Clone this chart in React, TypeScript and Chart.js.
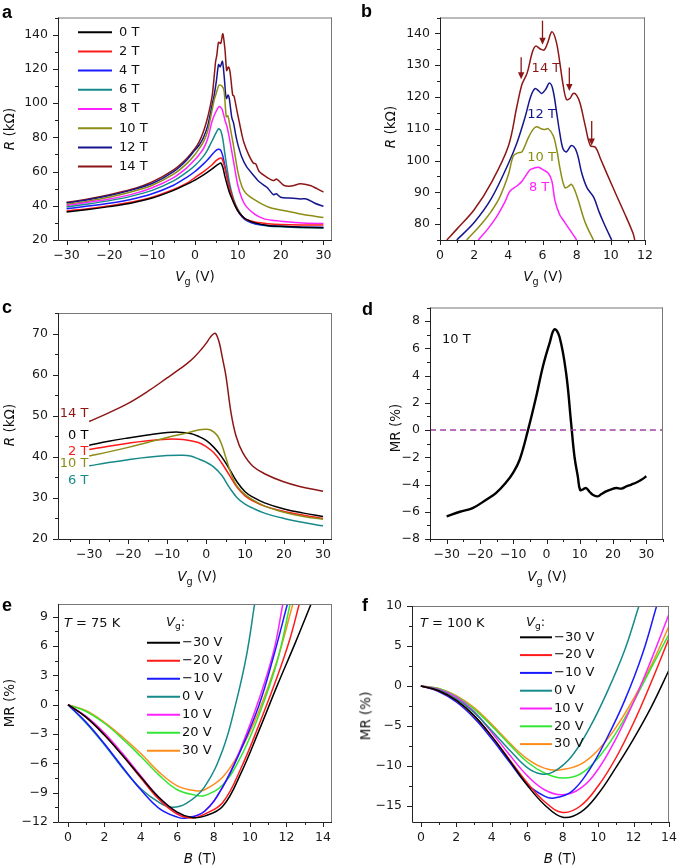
import React, { useEffect, useRef } from "react";
import { Chart, registerables } from "chart.js";

Chart.register(...registerables);

const FONT = "'DejaVu Sans', 'Liberation Sans', sans-serif";

const C_BLACK = "#000000";
const C_RED = "#ff1a1a";
const C_BLUE = "#1a1aff";
const C_TEAL = "#168a8a";
const C_MAGENTA = "#ff22ff";
const C_OLIVE = "#8c8c16";
const C_NAVY = "#16168c";
const C_BROWN = "#8c1616";
const C_GREEN = "#33e633";
const C_ORANGE = "#ff8c1a";
const C_DASH = "#a040a0";

// ---------------- Panel a : R vs Vg ----------------
const aLabels = ["0 T", "2 T", "4 T", "6 T", "8 T", "10 T", "12 T", "14 T"];
const aV0 = [-30, -25, -20, -15, -10, -5, -2, 0, 2, 4, 5, 5.5, 6, 6.5, 7, 8, 9, 10, 11, 12, 14, 17, 20, 25, 30];
const aR0 = [36.4, 37.8, 39.5, 41.5, 44.5, 49, 52.5, 55, 58, 61.5, 63.5, 64.3, 65, 62.5, 57, 48, 42, 37, 34, 32, 30, 28.5, 28, 27.5, 27.1];
const aV2 = [-30, -25, -20, -15, -10, -5, -2, 0, 2, 4, 5, 5.8, 6.3, 7, 8, 9, 10, 11, 12, 14, 17, 20, 25, 30];
const aR2 = [37, 38.3, 40, 42, 45, 49.5, 53, 56.5, 60, 64, 66.5, 67.8, 67.5, 62, 51, 43, 37.5, 34, 32, 30.5, 29.5, 29, 28.8, 28.8];
const aV4 = [-30, -25, -20, -15, -10, -5, -2, 0, 2, 3, 4, 5, 5.5, 6, 6.5, 7, 8, 9, 10, 11, 12, 14, 17, 20, 25, 30];
const aR4 = [38.3, 39.8, 41.5, 43.7, 47, 52, 56.5, 60, 64.5, 67, 70, 72.5, 73, 72.5, 69, 63, 51, 42.5, 37, 33.5, 31.5, 29.5, 28.5, 28, 27.5, 27.5];
const aV6 = [-30, -25, -20, -15, -10, -5, -2, 0, 2, 3, 4, 5, 5.5, 6, 6.5, 7, 8, 9, 10, 11, 12, 14, 17, 20, 25, 30];
const aR6 = [39.3, 41, 43, 45.5, 49, 54.5, 59.5, 63.5, 69, 73, 78, 83, 85, 84, 79, 70, 54, 44, 38, 34, 31.5, 29.5, 28.2, 27.7, 27.2, 27];
const aV8 = [-30, -25, -20, -15, -10, -5, -2, 0, 1, 2, 3, 4, 5, 5.7, 6.3, 7, 7.5, 8, 9, 10, 11, 12, 14, 16, 18, 20, 25, 30];
const aR8 = [40.2, 42, 44, 46.5, 50.5, 56.5, 62, 67, 70, 73.5, 79.5, 89.5, 95.5, 98, 96.5, 90, 86, 80, 66, 52, 44, 39.5, 35, 32.5, 31.5, 31, 30, 29.6];
const aV10 = [-30, -25, -20, -15, -10, -5, -2, 0, 1, 2, 3, 4, 4.5, 5, 5.6, 6.3, 6.8, 7.3, 7.7, 8.2, 9, 10, 11, 12, 13.6, 16, 18, 20.7, 25, 30];
const aR10 = [40.8, 42.7, 45, 48, 52, 58.5, 64.5, 70, 73.5, 77.5, 84, 96, 102, 106, 110.5, 110, 107, 92, 92.5, 86, 75, 60, 51, 47, 44, 40.5, 38.5, 37.3, 35, 33.1];
const aV12 = [-30, -25, -20, -15, -10, -5, -2, 0, 1, 2, 3, 4, 4.5, 5, 5.5, 5.9, 6.4, 6.8, 7.2, 7.4, 7.7, 8, 8.6, 9, 9.6, 10.1, 11, 12, 13.6, 15, 16.8, 18.3, 19, 20, 22, 24.6, 26, 28, 30];
const aR12 = [41.6, 43.5, 46, 49, 53, 60, 66.5, 72.5, 75.5, 80, 87, 99, 105, 113, 122.5, 121.2, 124.4, 116, 104, 102.7, 104.7, 102.7, 91.5, 88.4, 80.2, 75, 68, 63, 58, 54, 50.8, 46.5, 47, 45, 44.5, 44, 44, 41.5, 39.7];
const aV14 = [-30, -25, -20, -15, -10, -5, -2, 0, 1, 2, 3, 4, 4.5, 4.8, 5.1, 5.5, 6, 6.5, 7, 7.4, 7.8, 8.2, 8.8, 9.1, 9.8, 10.3, 10.9, 11.4, 12.5, 13.6, 14.2, 15, 16.8, 18.3, 19.1, 20.7, 22.5, 24.6, 26.9, 28.5, 30];
const aR14 = [42, 44, 46.5, 49.5, 54, 61, 67.5, 73.5, 77.5, 83.5, 92, 104, 116, 124, 128, 135.5, 134.8, 140.5, 131.3, 119, 121.1, 118, 104.7, 104.2, 95.5, 89.4, 82.2, 77.1, 70, 65, 64.5, 60, 56.6, 54.7, 55.6, 52, 51.5, 52.8, 51.8, 50, 48];
const aTicksX = [-30, -20, -10, 0, 10, 20, 30];
const aTicksY = [20, 40, 60, 80, 100, 120, 140];

// ---------------- Panel b : zoom of peak ----------------
const bLabels = ["14 T", "12 T", "10 T", "8 T"];
const bLabelV = [6.2, 5.95, 5.95, 5.8];
const bLabelR = [128.8, 114.5, 100.9, 91.5];
const bV14 = [0.4, 1, 2, 3, 4, 4.5, 4.8, 5.1, 5.4, 5.6, 5.9, 6.1, 6.3, 6.55, 6.8, 7.0, 7.2, 7.4, 7.6, 7.8, 8.0, 8.2, 8.5, 8.8, 9.1, 9.4, 9.8, 10.3, 10.9, 11.3, 11.4];
const bR14 = [75, 78.5, 84.5, 93, 104.5, 117, 124, 127.5, 134, 136, 135, 134.8, 137, 140.5, 137.5, 131.3, 124, 119.2, 119.5, 121.1, 120.5, 118, 111, 104.7, 104.2, 100.5, 95.5, 89.4, 82.2, 77.1, 75];
const bV12 = [0.98, 2, 3, 4, 4.5, 5, 5.3, 5.56, 5.8, 5.95, 6.2, 6.4, 6.6, 6.83, 7.0, 7.2, 7.4, 7.7, 8.0, 8.3, 8.6, 9.0, 9.3, 9.6, 10.05];
const bR12 = [75, 80.5, 88, 99, 105.5, 114, 120, 122.6, 121.8, 121.1, 122.5, 124.4, 122.5, 115, 109, 103.7, 102.7, 104.7, 102.7, 96, 91.5, 88.4, 84, 80.2, 75];
const bV10 = [1.56, 2, 2.5, 3, 3.5, 4, 4.3, 4.6, 4.8, 5.2, 5.45, 5.66, 5.95, 6.15, 6.34, 6.63, 6.85, 7.02, 7.3, 7.5, 7.7, 7.9, 8.1, 8.4, 8.6, 8.98];
const bR10 = [75, 77.5, 80.5, 84, 88.5, 95.5, 101.5, 102.5, 102.7, 107.5, 109.8, 110.6, 109.9, 109.8, 110, 107.8, 103, 97.6, 91.5, 91.8, 92.5, 90.5, 87.4, 82, 79.2, 75];
const bV8 = [2.24, 2.8, 3.3, 3.8, 4.1, 4.5, 4.8, 5.27, 5.5, 5.76, 6.0, 6.34, 6.55, 6.73, 7.0, 7.22, 7.6, 8.0];
const bR8 = [75, 78.5, 82.2, 87, 90.4, 92, 93.5, 97.1, 97.6, 97.9, 97.2, 96, 93.5, 87.4, 83, 81.2, 78.2, 75];
const bArrowV = [4.75, 6.0, 7.57, 8.88];
const bArrowFrom = [132.5, 144, 129.3, 112.4];
const bArrowTo = [125.6, 136.4, 121.9, 104.7];
const bTicksX = [0, 2, 4, 6, 8, 10, 12];
const bTicksY = [80, 90, 100, 110, 120, 130, 140];

// ---------------- Panel c ----------------
const cLabels = ["14 T", "0 T", "2 T", "10 T", "6 T"];
const cLabelR = [50.4, 45.2, 41.2, 38.3, 34.2];
const cV14 = [-30, -25, -20, -15, -10, -7, -5, -3, -1, 0, 1, 2, 2.6, 3.4, 4.2, 5.1, 6.4, 7.7, 9.4, 12, 15.4, 19.7, 24, 30];
const cR14 = [48.6, 50.7, 53, 55.9, 59.2, 61.2, 62.6, 64.3, 66.4, 67.6, 69, 70, 69.8, 67.7, 64, 59.6, 50.7, 45, 41, 37.7, 35.7, 34, 32.8, 31.6];
const cV0 = [-30, -25, -20, -15, -10, -7, -4, -2, 0, 2, 4, 6, 8, 10, 12, 15, 20, 25, 30];
const cR0 = [42.8, 43.8, 44.6, 45.3, 45.9, 46, 45.7, 45, 44, 42.3, 40, 37, 33.8, 31.5, 30.2, 28.8, 27.3, 26.3, 25.5];
const cV2 = [-30, -25, -20, -15, -10, -7, -5, -2, 0, 2, 4, 6, 8, 10, 12, 15, 20, 25, 30];
const cR2 = [41.8, 42.6, 43.3, 43.9, 44.3, 44.3, 44.1, 43.5, 42.5, 41, 38.5, 35.5, 32.5, 30.5, 29.3, 28, 26.7, 25.8, 25];
const cV10 = [-30, -25, -20, -15, -10, -5, -2, 0, 1, 2, 3, 4, 5, 6, 7, 8, 10, 12, 15, 20, 25, 30];
const cR10 = [40.2, 41.2, 42.3, 43.5, 44.7, 45.8, 46.5, 46.7, 46.6, 46, 45, 43, 40, 37, 34.5, 32.8, 30.8, 29.5, 28, 26.5, 25.5, 24.8];
const cV6 = [-30, -25, -20, -15, -10, -6, -4, -2, 0, 2, 4, 6, 8, 10, 12, 15, 20, 25, 30];
const cR6 = [37.8, 38.6, 39.3, 39.9, 40.3, 40.4, 40.2, 39.5, 38.7, 37.5, 35.5, 32.5, 30, 28.5, 27.5, 26.3, 25, 24, 23.2];
const cTicksX = [-30, -20, -10, 0, 10, 20, 30];
const cTicksY = [20, 30, 40, 50, 60, 70];

// ---------------- Panel d : MR at 10 T ----------------
const dV = [-30, -26, -22.2, -18, -15.2, -12, -10.1, -8.1, -5.6, -3.1, -1.1, 0.9, 2.4, 3.9, 5.9, 7.4, 8.4, 9.4, 10.1, 11, 11.9, 13, 13.9, 15.4, 16.5, 17.9, 19.5, 21, 22.5, 24, 25.5, 27, 28.5, 30];
const dMR = [-6.34, -6.0, -5.73, -5.1, -4.63, -3.8, -3.16, -2.2, -0.04, 2.45, 4.65, 6.36, 7.4, 6.85, 4.17, 0.5, -1.94, -3.4, -4.4, -4.35, -4.26, -4.55, -4.75, -4.87, -4.7, -4.5, -4.35, -4.26, -4.3, -4.14, -4.0, -3.85, -3.65, -3.4];
const dZeroV = [-35, 35];
const dZeroMR = [0, 0];
const dTicksX = [-30, -20, -10, 0, 10, 20, 30];
const dTicksY = [-8, -6, -4, -2, 0, 2, 4, 6, 8];

// ---------------- Panel e : T = 75 K ----------------
const vgLabels = ["\u221230 V", "\u221220 V", "\u221210 V", "0 V", "10 V", "20 V", "30 V"];
const eBm30 = [0, 1, 2, 3, 4, 5, 6, 6.8, 7.5, 8.5, 9.5, 10.5, 11.5, 12.5, 13.35];
const eMm30 = [0, -1.3, -3.1, -5.2, -7.4, -9.5, -11, -11.55, -11.4, -10.4, -7.0, -2.6, 2.0, 6.4, 10.3];
const eBm20 = [0, 1, 2, 3, 4, 5, 6, 6.8, 7.5, 8.5, 9.5, 10.5, 11.5, 12.2, 12.7];
const eMm20 = [0, -1.3, -3.1, -5.2, -7.5, -9.7, -11.2, -11.6, -11.2, -10.0, -6.5, -2.0, 2.9, 6.8, 10.3];
const eBm10 = [0, 1, 2, 3, 4, 5, 6, 6.5, 7.5, 8.5, 9.5, 10.5, 11.3, 12.05];
const eMm10 = [0, -1.8, -4.0, -6.4, -8.7, -10.6, -11.5, -11.6, -10.9, -8.4, -4.6, 0, 5.0, 10.3];
const eB0 = [0, 1, 2, 3, 4, 5, 5.7, 6.5, 7.5, 8.5, 9.2, 9.8, 10.25];
const eM0 = [0, -1.9, -4.1, -6.5, -8.6, -10.0, -10.5, -10.1, -8.4, -4.6, 0, 5.0, 10.3];
const eB10 = [0, 1, 2, 3, 4, 5, 6, 6.6, 7.5, 8.5, 9.5, 10.5, 11.3, 11.8];
const eM10 = [0, -1.2, -2.9, -5.0, -7.3, -9.5, -11.1, -11.5, -10.9, -8.4, -4.4, 0.6, 5.5, 10.3];
const eB20 = [0, 1, 2, 3, 4, 5, 6, 7, 7.5, 8.5, 9.5, 10.5, 11.5, 12.2];
const eM20 = [0, -0.7, -1.9, -3.5, -5.3, -7.2, -8.7, -9.25, -9.3, -8.2, -5.3, -1.0, 4.5, 10.3];
const eB30 = [0, 1, 2, 3, 4, 5, 6, 7, 7.5, 8.5, 9.5, 10.5, 11.5, 12.35];
const eM30 = [0, -0.6, -1.8, -3.3, -5.0, -6.9, -8.3, -8.8, -8.7, -7.4, -4.6, -0.6, 4.6, 10.3];
const eTicksX = [0, 2, 4, 6, 8, 10, 12, 14];
const eTicksY = [-12, -9, -6, -3, 0, 3, 6, 9];

// ---------------- Panel f : T = 100 K ----------------
const fBm30 = [0, 1, 2, 3, 4, 5, 6, 7, 8, 9, 10, 11, 12, 13, 14];
const fMm30 = [0, -0.6, -1.8, -3.7, -6.3, -9.3, -12.4, -14.9, -16.4, -15.8, -13.5, -10.2, -6.6, -2.6, 2.0];
const fBm20 = [0, 1, 2, 3, 4, 5, 6, 7, 8, 9, 10, 11, 12, 13, 14];
const fMm20 = [0, -0.6, -1.8, -3.7, -6.3, -9.2, -12.1, -14.5, -15.8, -15.0, -12.5, -9.0, -4.6, 0.5, 6.0];
const fBm10 = [0, 1, 2, 3, 4, 5, 6, 7, 7.5, 8.5, 9.5, 10.5, 11.5, 12.5, 13.3];
const fMm10 = [0, -0.7, -2.0, -4.0, -6.6, -9.5, -12.3, -13.8, -14.0, -13.2, -10.5, -6.5, -1.8, 4.0, 10];
const fB0 = [0, 1, 2, 3, 4, 5, 6, 6.8, 7.5, 8.5, 9.5, 10.5, 11.5, 12.3];
const fM0 = [0, -0.5, -1.6, -3.3, -5.6, -8.0, -10.2, -11.0, -10.7, -8.8, -5.3, -0.8, 4.5, 10];
const fB10 = [0, 1, 2, 3, 4, 5, 6, 7, 8, 9, 10, 11, 12, 13, 14];
const fM10 = [0, -0.4, -1.4, -3.2, -5.8, -8.6, -11.2, -13.0, -13.6, -12.8, -10.4, -6.6, -2.0, 3.3, 9.0];
const fB20 = [0, 1, 2, 3, 4, 5, 6, 7, 8, 9, 10, 11, 12, 13, 14];
const fM20 = [0, -0.3, -1.3, -2.9, -5.0, -7.3, -9.5, -10.9, -11.5, -11.0, -9.0, -5.9, -2.0, 2.3, 6.5];
const fB30 = [0, 1, 2, 3, 4, 5, 6, 7, 7.8, 9, 10, 11, 12, 13, 14];
const fM30 = [0, -0.3, -1.2, -2.7, -4.8, -7.1, -9.1, -10.3, -10.5, -9.8, -8.0, -5.2, -1.6, 2.6, 7.5];
const fTicksX = [0, 2, 4, 6, 8, 10, 12, 14];
const fTicksY = [-15, -10, -5, 0, 5, 10];

// ---------------- helpers ----------------
type Line = { x: number[]; y: number[]; color: string; width?: number; dash?: number[] };
type Axis = { min: number; max: number; ticks: number[]; minor: number };
type PanelCfg = {
  box: [number, number, number, number];
  area: [number, number, number, number];
  x: Axis;
  y: Axis;
  lines: Line[];
  tension: number;
  overlay?: (ctx: CanvasRenderingContext2D, chart: any) => void;
};

const pts = (xs: number[], ys: number[]) => xs.map((x, i) => ({ x, y: ys[i] }));
const fmt = (v: number) => (v < 0 ? "\u2212" + Math.abs(v) : String(v));

function drawItalicPrefix(ctx: CanvasRenderingContext2D, x: number, y: number, it: string, rest: string, size: number) {
  ctx.textAlign = "left";
  ctx.textBaseline = "middle";
  ctx.font = `italic ${size}px ${FONT}`;
  ctx.fillText(it, x, y);
  const w = ctx.measureText(it).width;
  ctx.font = `${size}px ${FONT}`;
  ctx.fillText(rest, x + w, y);
}

function drawVg(ctx: CanvasRenderingContext2D, x: number, y: number, size: number) {
  ctx.textAlign = "left";
  ctx.textBaseline = "middle";
  ctx.font = `italic ${size}px ${FONT}`;
  ctx.fillText("V", x, y);
  const w = ctx.measureText("V").width;
  ctx.font = `${size * 0.7}px ${FONT}`;
  ctx.fillText("g", x + w, y + 4);
  const w2 = ctx.measureText("g").width;
  ctx.font = `${size}px ${FONT}`;
  ctx.fillText(":", x + w + w2, y);
}

function drawLegend(ctx: CanvasRenderingContext2D, x0: number, x1: number, tx: number, y0: number, dy: number, labels: string[], colors: string[], size: number) {
  labels.forEach((lab, i) => {
    const y = y0 + i * dy;
    ctx.strokeStyle = colors[i];
    ctx.lineWidth = 2;
    ctx.beginPath();
    ctx.moveTo(x0, y);
    ctx.lineTo(x1, y);
    ctx.stroke();
    ctx.fillStyle = "#111";
    ctx.font = `${size}px ${FONT}`;
    ctx.textAlign = "left";
    ctx.textBaseline = "middle";
    ctx.fillText(lab, tx, y);
  });
}

const aColors = [C_BLACK, C_RED, C_BLUE, C_TEAL, C_MAGENTA, C_OLIVE, C_NAVY, C_BROWN];
const vgColors = [C_BLACK, C_RED, C_BLUE, C_TEAL, C_MAGENTA, C_GREEN, C_ORANGE];

const PANELS: PanelCfg[] = [
  {
    box: [0, 0, 342, 290],
    area: [58, 13, 332, 240],
    x: { min: -32, max: 32, ticks: aTicksX, minor: 5 },
    y: { min: 20, max: 150, ticks: aTicksY, minor: 10 },
    tension: 0.25,
    lines: [
      { x: aV0, y: aR0, color: C_BLACK },
      { x: aV2, y: aR2, color: C_RED },
      { x: aV4, y: aR4, color: C_BLUE },
      { x: aV6, y: aR6, color: C_TEAL },
      { x: aV8, y: aR8, color: C_MAGENTA },
      { x: aV10, y: aR10, color: C_OLIVE },
      { x: aV12, y: aR12, color: C_NAVY },
      { x: aV14, y: aR14, color: C_BROWN },
    ],
    overlay: (ctx, chart) => {
      const a = chart.chartArea;
      drawLegend(ctx, a.left + 20, a.left + 54, a.left + 61, a.top + 14.7, 19.2, aLabels, aColors, 13);
    },
  },
  {
    box: [342, 0, 343, 290],
    area: [440, 12, 645, 240],
    x: { min: 0, max: 12, ticks: bTicksX, minor: 1 },
    y: { min: 75, max: 145, ticks: bTicksY, minor: 5 },
    tension: 0.35,
    lines: [
      { x: bV8, y: bR8, color: C_MAGENTA },
      { x: bV10, y: bR10, color: C_OLIVE },
      { x: bV12, y: bR12, color: C_NAVY },
      { x: bV14, y: bR14, color: C_BROWN },
    ],
    overlay: (ctx, chart) => {
      const xs = chart.scales.x;
      const ys = chart.scales.y;
      const cols = [C_BROWN, C_NAVY, C_OLIVE, C_MAGENTA];
      bLabels.forEach((lab, i) => {
        ctx.fillStyle = cols[i];
        ctx.font = `13px ${FONT}`;
        ctx.textAlign = "center";
        ctx.textBaseline = "middle";
        ctx.fillText(lab, xs.getPixelForValue(bLabelV[i]), ys.getPixelForValue(bLabelR[i]));
      });
      ctx.strokeStyle = C_BROWN;
      ctx.fillStyle = C_BROWN;
      ctx.lineWidth = 1.3;
      bArrowV.forEach((v, i) => {
        const px = xs.getPixelForValue(v);
        const y0 = ys.getPixelForValue(bArrowFrom[i]);
        const y1 = ys.getPixelForValue(bArrowTo[i]);
        ctx.beginPath();
        ctx.moveTo(px, y0);
        ctx.lineTo(px, y1 - 5);
        ctx.stroke();
        ctx.beginPath();
        ctx.moveTo(px - 3.2, y1 - 7);
        ctx.lineTo(px + 3.2, y1 - 7);
        ctx.lineTo(px, y1);
        ctx.closePath();
        ctx.fill();
      });
    },
  },
  {
    box: [0, 290, 342, 290],
    area: [58, 313, 332, 539],
    x: { min: -38, max: 32.3, ticks: cTicksX, minor: 5 },
    y: { min: 20, max: 75, ticks: cTicksY, minor: 5 },
    tension: 0.4,
    lines: [
      { x: cV6, y: cR6, color: C_TEAL },
      { x: cV10, y: cR10, color: C_OLIVE },
      { x: cV2, y: cR2, color: C_RED },
      { x: cV0, y: cR0, color: C_BLACK },
      { x: cV14, y: cR14, color: C_BROWN },
    ],
    overlay: (ctx, chart) => {
      const xs = chart.scales.x;
      const ys = chart.scales.y;
      const cols = [C_BROWN, C_BLACK, C_RED, C_OLIVE, C_TEAL];
      cLabels.forEach((lab, i) => {
        ctx.fillStyle = cols[i];
        ctx.font = `13px ${FONT}`;
        ctx.textAlign = "right";
        ctx.textBaseline = "middle";
        ctx.fillText(lab, xs.getPixelForValue(-30.2), ys.getPixelForValue(cLabelR[i]));
      });
    },
  },
  {
    box: [342, 290, 343, 290],
    area: [430, 307, 663, 539],
    x: { min: -35, max: 35, ticks: dTicksX, minor: 5 },
    y: { min: -8, max: 9, ticks: dTicksY, minor: 1 },
    tension: 0.4,
    lines: [
      { x: dZeroV, y: dZeroMR, color: C_DASH, width: 1.5, dash: [6, 4] },
      { x: dV, y: dMR, color: C_BLACK, width: 2.4 },
    ],
    overlay: (ctx, chart) => {
      const a = chart.chartArea;
      ctx.fillStyle = "#111";
      ctx.font = `13px ${FONT}`;
      ctx.textAlign = "left";
      ctx.textBaseline = "middle";
      ctx.fillText("10 T", a.left + 12, a.top + 32);
    },
  },
  {
    box: [0, 580, 342, 288],
    area: [58, 604, 332, 822],
    x: { min: -0.55, max: 14.5, ticks: eTicksX, minor: 1 },
    y: { min: -12, max: 10.3, ticks: eTicksY, minor: 1.5 },
    tension: 0.4,
    lines: [
      { x: eBm30, y: eMm30, color: C_BLACK },
      { x: eBm20, y: eMm20, color: C_RED },
      { x: eBm10, y: eMm10, color: C_BLUE },
      { x: eB0, y: eM0, color: C_TEAL },
      { x: eB10, y: eM10, color: C_MAGENTA },
      { x: eB20, y: eM20, color: C_GREEN },
      { x: eB30, y: eM30, color: C_ORANGE },
    ],
    overlay: (ctx, chart) => {
      const a = chart.chartArea;
      ctx.fillStyle = "#111";
      drawItalicPrefix(ctx, a.left + 6, a.top + 20, "T", " = 75 K", 13);
      ctx.fillStyle = "#111";
      drawVg(ctx, a.left + 108, a.top + 19, 13);
      drawLegend(ctx, a.left + 89, a.left + 122, a.left + 124, a.top + 38.7, 18, vgLabels, vgColors, 13);
    },
  },
  {
    box: [342, 580, 343, 288],
    area: [412, 606, 675, 822],
    x: { min: -0.5, max: 14, ticks: fTicksX, minor: 1 },
    y: { min: -17, max: 10, ticks: fTicksY, minor: 2.5 },
    tension: 0.4,
    lines: [
      { x: fBm30, y: fMm30, color: C_BLACK },
      { x: fBm20, y: fMm20, color: C_RED },
      { x: fBm10, y: fMm10, color: C_BLUE },
      { x: fB0, y: fM0, color: C_TEAL },
      { x: fB10, y: fM10, color: C_MAGENTA },
      { x: fB20, y: fM20, color: C_GREEN },
      { x: fB30, y: fM30, color: C_ORANGE },
    ],
    overlay: (ctx, chart) => {
      const a = chart.chartArea;
      ctx.fillStyle = "#111";
      drawItalicPrefix(ctx, a.left + 8, a.top + 18, "T", " = 100 K", 13);
      ctx.fillStyle = "#111";
      drawVg(ctx, a.left + 114, a.top + 17, 13);
      drawLegend(ctx, a.left + 108, a.left + 140, a.left + 142, a.top + 31.3, 17.8, vgLabels, vgColors, 13);
    },
  },
];

function makeFramePlugin(cfg: PanelCfg) {
  return {
    id: "frame",
    afterDatasetsDraw(chart: any) {
      const { ctx, chartArea: a, scales } = chart;
      const xs = scales.x;
      const ys = scales.y;
      ctx.save();
      ctx.lineWidth = 1;
      ctx.strokeStyle = "#777";
      ctx.beginPath();
      ctx.moveTo(a.left, a.top + 0.5);
      ctx.lineTo(a.right, a.top + 0.5);
      ctx.moveTo(a.right - 0.5, a.top);
      ctx.lineTo(a.right - 0.5, a.bottom);
      ctx.stroke();
      ctx.strokeStyle = "#222";
      ctx.beginPath();
      ctx.moveTo(a.left + 0.5, a.top);
      ctx.lineTo(a.left + 0.5, a.bottom + 0.5);
      ctx.lineTo(a.right, a.bottom + 0.5);
      const isMajor = (ax: Axis, v: number) => ax.ticks.some((t) => Math.abs(t - v) < 1e-6);
      const nx0 = Math.ceil(cfg.x.min / cfg.x.minor - 1e-9);
      const nx1 = Math.floor(cfg.x.max / cfg.x.minor + 1e-9);
      for (let n = nx0; n <= nx1; n++) {
        const v = n * cfg.x.minor;
        const px = Math.round(xs.getPixelForValue(v)) + 0.5;
        ctx.moveTo(px, a.bottom);
        ctx.lineTo(px, a.bottom + (isMajor(cfg.x, v) ? 5 : 3));
      }
      const ny0 = Math.ceil(cfg.y.min / cfg.y.minor - 1e-9);
      const ny1 = Math.floor(cfg.y.max / cfg.y.minor + 1e-9);
      for (let n = ny0; n <= ny1; n++) {
        const v = n * cfg.y.minor;
        const py = Math.round(ys.getPixelForValue(v)) + 0.5;
        ctx.moveTo(a.left, py);
        ctx.lineTo(a.left - (isMajor(cfg.y, v) ? 5 : 3), py);
      }
      ctx.stroke();
      ctx.restore();
    },
    afterDraw(chart: any) {
      if (cfg.overlay) {
        const ctx = chart.ctx;
        ctx.save();
        cfg.overlay(ctx, chart);
        ctx.restore();
      }
    },
  };
}

function Panel({ cfg }: { cfg: PanelCfg }) {
  const ref = useRef<HTMLCanvasElement>(null);
  const [bl, bt, bw, bh] = cfg.box;
  useEffect(() => {
    const [al, at, ar, ab] = cfg.area;
    const yW = al - bl;
    const xH = bt + bh - ab;
    const axisOpts = (ax: Axis, isX: boolean): any => ({
      type: "linear",
      min: ax.min,
      max: ax.max,
      grid: { display: false, drawTicks: false },
      border: { display: false },
      afterBuildTicks: (s: any) => {
        s.ticks = ax.ticks.map((v) => ({ value: v }));
      },
      afterFit: (s: any) => {
        if (isX) s.height = xH;
        else s.width = yW;
      },
      ticks: {
        padding: isX ? 8 : 10,
        color: "#1a1a1a",
        font: { family: FONT, size: 12.5 },
        maxRotation: 0,
        minRotation: 0,
        autoSkip: false,
        callback: (v: any) => fmt(Number(v)),
      },
    });
    const chart = new Chart(ref.current as HTMLCanvasElement, {
      type: "scatter",
      data: {
        datasets: cfg.lines.map((l) => ({
          data: pts(l.x, l.y),
          showLine: true,
          borderColor: l.color,
          backgroundColor: l.color,
          borderWidth: l.width ?? 1.5,
          borderDash: l.dash ?? [],
          pointRadius: 0,
          pointHoverRadius: 0,
          tension: cfg.tension,
          fill: false,
        })),
      },
      options: {
        animation: false,
        responsive: false,
        events: [],
        layout: { padding: { left: 0, top: at - bt, right: bl + bw - ar, bottom: 0 } },
        plugins: { legend: { display: false }, tooltip: { enabled: false } },
        scales: { x: axisOpts(cfg.x, true), y: axisOpts(cfg.y, false) },
      } as any,
      plugins: [makeFramePlugin(cfg)],
    } as any);
    return () => chart.destroy();
  }, [cfg]);
  return <canvas ref={ref} width={bw} height={bh} style={{ position: "absolute", left: bl, top: bt, display: "block" }} />;
}

const subStyle: React.CSSProperties = { fontSize: "0.72em", verticalAlign: "-0.35em", lineHeight: 0 };

function Title({ x, y, rot, children }: { x: number; y: number; rot?: boolean; children: React.ReactNode }) {
  return (
    <div
      style={{
        position: "absolute",
        left: x,
        top: y,
        transform: `translate(-50%, -50%)${rot ? " rotate(-90deg)" : ""}`,
        fontSize: 13.5,
        lineHeight: 1,
        whiteSpace: "nowrap",
        color: "#111",
        fontFamily: FONT,
      }}
    >
      {children}
    </div>
  );
}

function Letter({ x, y, t }: { x: number; y: number; t: string }) {
  return (
    <div
      style={{
        position: "absolute",
        left: x,
        top: y - 15,
        fontFamily: "'Liberation Sans', Arial, sans-serif",
        fontWeight: "bold",
        fontSize: 18,
        lineHeight: "18px",
        color: "#000",
      }}
    >
      {t}
    </div>
  );
}

const VgT = () => (
  <>
    <i>V</i>
    <sub style={subStyle}>g</sub> (V)
  </>
);
const RT = () => (
  <>
    <i>R</i> (kΩ)
  </>
);
const BT = () => (
  <>
    <i>B</i> (T)
  </>
);

export default function App() {
  return (
    <div style={{ position: "absolute", left: 0, top: 0, width: 685, height: 868, background: "#fff", overflow: "hidden" }}>
      {PANELS.map((p, i) => (
        <Panel key={i} cfg={p} />
      ))}
      <Letter x={2} y={18} t="a" />
      <Letter x={361} y={17} t="b" />
      <Letter x={2} y={313} t="c" />
      <Letter x={362} y={315} t="d" />
      <Letter x={2} y={611} t="e" />
      <Letter x={362} y={611} t="f" />
      <Title x={10} y={129} rot><RT /></Title>
      <Title x={195} y={277}><VgT /></Title>
      <Title x={391} y={127} rot><RT /></Title>
      <Title x={543} y={277}><VgT /></Title>
      <Title x={10} y={425} rot><RT /></Title>
      <Title x={197} y={577}><VgT /></Title>
      <Title x={396} y={428} rot>MR (%)</Title>
      <Title x={547} y={577}><VgT /></Title>
      <Title x={10} y={703} rot>MR (%)</Title>
      <Title x={200} y={859}><BT /></Title>
      <Title x={366} y={716} rot>MR (%)</Title>
      <Title x={560} y={859}><BT /></Title>
    </div>
  );
}
